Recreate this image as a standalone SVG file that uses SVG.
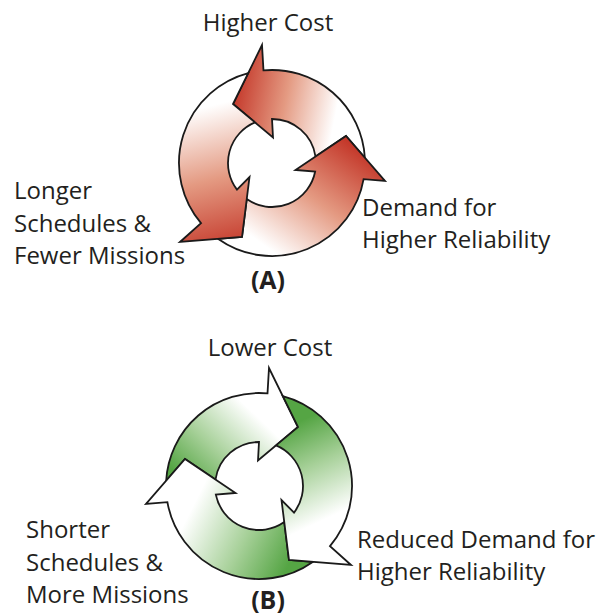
<svg xmlns="http://www.w3.org/2000/svg" xmlns:xlink="http://www.w3.org/1999/xlink" width="610" height="615" viewBox="0 0 610 615">
  <style>
    .lbl { font-family: "Open Sans", "Noto Sans", "Liberation Sans", sans-serif; font-size: 24px; fill: #231f20; }
    .tag { font-family: "Open Sans", "Noto Sans", "Liberation Sans", sans-serif; font-size: 25px; font-weight: bold; fill: #231f20; }
    .arrow { stroke: #1a1a1a; stroke-width: 1.8; stroke-linejoin: miter; stroke-miterlimit: 10; }
    .red0 { stop-color: #c4382a; }
    .red1 { stop-color: #e49a82; }
    .grn0 { stop-color: #55a544; }
    .grn1 { stop-color: #a6d098; }
    .wht { stop-color: #ffffff; }
  </style>
  <defs>
    <!-- Ring arrows drawn around (0,0): outer radius 93, inner radius 44.
         Each tail is cut to fit the head of the arrow before it. -->
    <path id="arc-top" d="M92.85,-5.25 A93,93 0 0 0 -8.52,-92.61 L-10,-118 L-39,-59 L1,-25.5 L0,-44 A44,44 0 0 1 43.52,-6.48 L74,-27 Z"/>
    <path id="arc-right" d="M-53.72,75.91 A93,93 0 0 0 91.6,16.1 L113,18 L74,-27 L23.5,7 L43.17,8.53 A44,44 0 0 1 -25.25,36.03 L-30,74 Z"/>
    <path id="arc-left" d="M-23.81,-89.9 A93,93 0 0 0 -71,60.07 L-92,79 L-30,74 L-22.5,14 L-35.02,26.64 A44,44 0 0 1 -17.01,-40.58 L-39,-59 Z"/>

    <!-- Red cycle: deep red at each head, fading to white at the tail -->
    <linearGradient id="red-top" gradientUnits="userSpaceOnUse" x1="-40" y1="-60" x2="62" y2="-40">
      <stop offset="0" class="red0"/>
      <stop offset="0.5" class="red1"/>
      <stop offset="1" class="wht"/>
    </linearGradient>
    <linearGradient id="red-right" gradientUnits="userSpaceOnUse" x1="78" y1="-20" x2="0" y2="88">
      <stop offset="0" class="red0"/>
      <stop offset="0.5" class="red1"/>
      <stop offset="1" class="wht"/>
    </linearGradient>
    <linearGradient id="red-left" gradientUnits="userSpaceOnUse" x1="-35" y1="85" x2="-70" y2="-55">
      <stop offset="0" class="red0"/>
      <stop offset="0.5" class="red1"/>
      <stop offset="1" class="wht"/>
    </linearGradient>

    <!-- Green cycle (mirrored): green at each tail, white at the head -->
    <linearGradient id="green-top" gradientUnits="userSpaceOnUse" x1="82" y1="-12" x2="15" y2="-82">
      <stop offset="0" class="grn0"/>
      <stop offset="0.45" class="grn1"/>
      <stop offset="1" class="wht"/>
    </linearGradient>
    <linearGradient id="green-right" gradientUnits="userSpaceOnUse" x1="-28" y1="82" x2="72" y2="32">
      <stop offset="0" class="grn0"/>
      <stop offset="0.45" class="grn1"/>
      <stop offset="1" class="wht"/>
    </linearGradient>
    <linearGradient id="green-left" gradientUnits="userSpaceOnUse" x1="-48" y1="-68" x2="-90" y2="22">
      <stop offset="0" class="grn0"/>
      <stop offset="0.45" class="grn1"/>
      <stop offset="1" class="wht"/>
    </linearGradient>
  </defs>

  <rect width="610" height="615" fill="#ffffff"/>

  <!-- Cycle A -->
  <g id="cycle-a" transform="translate(272,163)">
    <g id="a-arrow-cost"><use xlink:href="#arc-top" class="arrow" fill="url(#red-top)"/></g>
    <g id="a-arrow-reliability"><use xlink:href="#arc-right" class="arrow" fill="url(#red-right)"/></g>
    <g id="a-arrow-schedules"><use xlink:href="#arc-left" class="arrow" fill="url(#red-left)"/></g>
  </g>
  <g id="a-label-cost"><text class="lbl" x="268" y="31" text-anchor="middle">Higher Cost</text></g>
  <g id="a-label-schedules">
    <text class="lbl" x="14" y="199">Longer</text>
    <text class="lbl" x="14" y="232">Schedules &amp;</text>
    <text class="lbl" x="14" y="264">Fewer Missions</text>
  </g>
  <g id="a-label-reliability">
    <text class="lbl" x="362" y="216">Demand for</text>
    <text class="lbl" x="362" y="248">Higher Reliability</text>
  </g>
  <g id="a-tag"><text class="tag" x="268" y="289" text-anchor="middle">(A)</text></g>

  <!-- Cycle B: the same ring, mirrored -->
  <g id="cycle-b" transform="translate(259,486) scale(-1,1)">
    <g id="b-arrow-cost"><use xlink:href="#arc-top" class="arrow" fill="url(#green-top)"/></g>
    <g id="b-arrow-schedules"><use xlink:href="#arc-right" class="arrow" fill="url(#green-right)"/></g>
    <g id="b-arrow-reliability"><use xlink:href="#arc-left" class="arrow" fill="url(#green-left)"/></g>
  </g>
  <g id="b-label-cost"><text class="lbl" x="270" y="356" text-anchor="middle">Lower Cost</text></g>
  <g id="b-label-schedules">
    <text class="lbl" x="26" y="538">Shorter</text>
    <text class="lbl" x="26" y="571">Schedules &amp;</text>
    <text class="lbl" x="26" y="603">More Missions</text>
  </g>
  <g id="b-label-reliability">
    <text class="lbl" x="357" y="548">Reduced Demand for</text>
    <text class="lbl" x="357" y="580">Higher Reliability</text>
  </g>
  <g id="b-tag"><text class="tag" x="268" y="609" text-anchor="middle">(B)</text></g>
</svg>
